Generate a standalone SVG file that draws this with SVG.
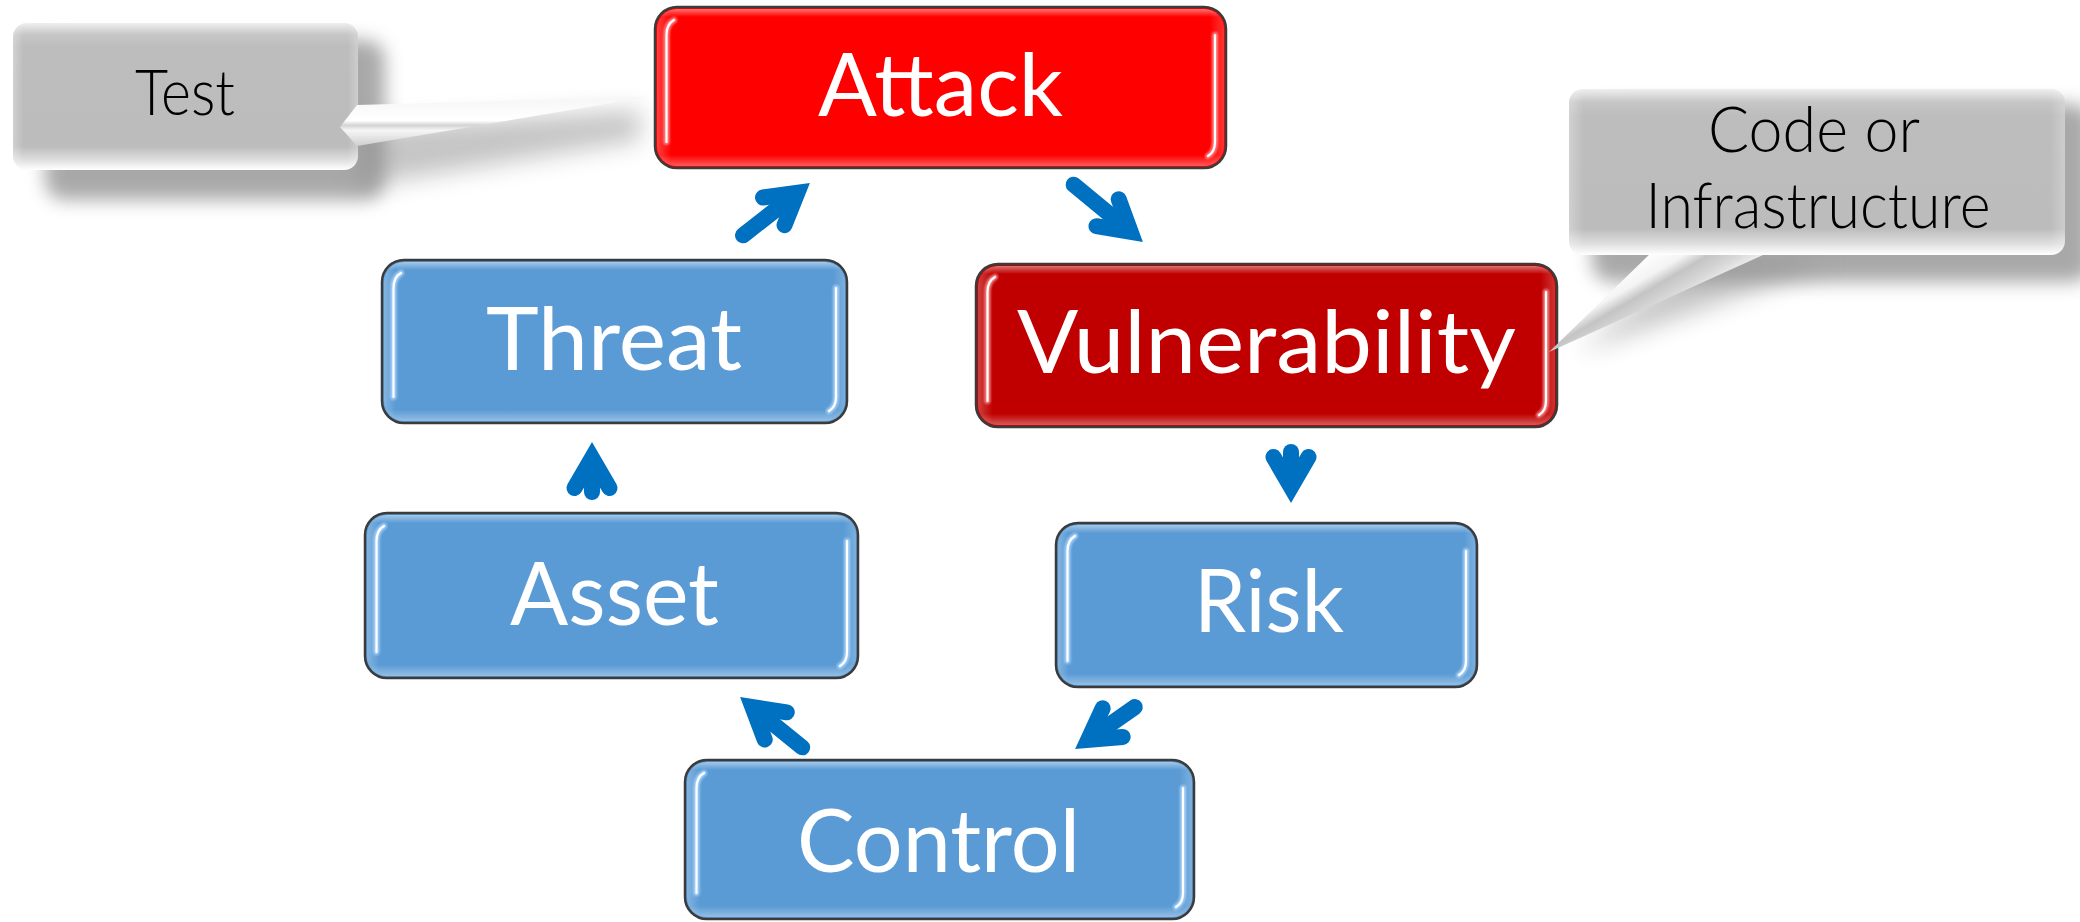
<svg xmlns="http://www.w3.org/2000/svg" width="2080" height="922" viewBox="0 0 2080 922">
  <style>
    .box { stroke: #3b3b3b; stroke-width: 2.5; }
    .blue .box { fill: #5b9bd5; }
    .red .box { fill: #ff0000; }
    .dark .box { fill: #c00000; }
    .gloss-v { fill: url(#glossV); stroke: none; }
    .gloss-h { fill: url(#glossH); stroke: none; }
    .glow { fill: none; stroke-width: 6; stroke-linecap: round; opacity: .8; filter: url(#soft); }
    .blue .glow { stroke: #b4dbff; }
    .red .glow, .dark .glow { stroke: #ff9c9c; }
    .shine { fill: none; stroke: #ffffff; stroke-width: 2.2; stroke-linecap: round; filter: url(#soft1); }
    .label { font-family: Lato, "Open Sans", sans-serif; font-size: 87px; fill: #ffffff; text-anchor: middle; }
    .note { font-family: Lato, "Open Sans", sans-serif; font-weight: 300; font-size: 63px; fill: #000000; text-anchor: middle; }
    .callout-box { fill: url(#calloutV); }
    .callout-edge { fill: url(#calloutH); }
    .shadow { fill: #707070; opacity: .6; filter: url(#blur9); }
    .tail-shadow { fill: #8a8a8a; opacity: .5; filter: url(#blur12); }
    .arrow path { fill: none; stroke: #0070c0; stroke-width: 16; stroke-linecap: round; stroke-linejoin: miter; stroke-miterlimit: 6; }
  </style>
  <defs>
    <linearGradient id="glossV" x1="0" y1="0" x2="0" y2="1">
      <stop offset="0" stop-color="#ffffff" stop-opacity=".45"/>
      <stop offset=".05" stop-color="#ffffff" stop-opacity="0"/>
      <stop offset=".93" stop-color="#ffffff" stop-opacity="0"/>
      <stop offset="1" stop-color="#ffffff" stop-opacity=".35"/>
    </linearGradient>
    <linearGradient id="glossH" x1="0" y1="0" x2="1" y2="0">
      <stop offset="0" stop-color="#ffffff" stop-opacity=".25"/>
      <stop offset=".025" stop-color="#ffffff" stop-opacity="0"/>
      <stop offset=".975" stop-color="#ffffff" stop-opacity="0"/>
      <stop offset="1" stop-color="#ffffff" stop-opacity=".2"/>
    </linearGradient>
    <linearGradient id="calloutV" x1="0" y1="0" x2="0" y2="1">
      <stop offset="0" stop-color="#efefef"/>
      <stop offset=".08" stop-color="#c6c6c6"/>
      <stop offset=".16" stop-color="#bdbdbd"/>
      <stop offset=".84" stop-color="#bcbcbc"/>
      <stop offset=".93" stop-color="#dedede"/>
      <stop offset="1" stop-color="#ffffff"/>
    </linearGradient>
    <linearGradient id="calloutH" x1="0" y1="0" x2="1" y2="0">
      <stop offset="0" stop-color="#ffffff" stop-opacity=".3"/>
      <stop offset=".03" stop-color="#ffffff" stop-opacity="0"/>
      <stop offset=".97" stop-color="#ffffff" stop-opacity="0"/>
      <stop offset="1" stop-color="#ffffff" stop-opacity=".25"/>
    </linearGradient>
    <linearGradient id="tailTest" gradientUnits="userSpaceOnUse" x1="0" y1="100" x2="0" y2="146">
      <stop offset="0" stop-color="#f7f7f7"/>
      <stop offset=".45" stop-color="#ffffff"/>
      <stop offset=".55" stop-color="#d3d3d3"/>
      <stop offset=".66" stop-color="#f6f6f6"/>
      <stop offset="1" stop-color="#cfcfcf"/>
    </linearGradient>
    <linearGradient id="tailCode" gradientUnits="userSpaceOnUse" x1="1630" y1="262" x2="1661" y2="315">
      <stop offset="0" stop-color="#ffffff"/>
      <stop offset=".35" stop-color="#f4f4f4"/>
      <stop offset=".55" stop-color="#c4c4c4"/>
      <stop offset=".8" stop-color="#d8d8d8"/>
      <stop offset="1" stop-color="#eeeeee"/>
    </linearGradient>
    <filter id="soft" x="-50%" y="-10%" width="200%" height="120%"><feGaussianBlur stdDeviation="1.2"/></filter>
    <filter id="soft1" x="-50%" y="-10%" width="200%" height="120%"><feGaussianBlur stdDeviation=".5"/></filter>
    <filter id="blur9" x="-20%" y="-40%" width="140%" height="180%"><feGaussianBlur stdDeviation="9"/></filter>
    <filter id="blur12" x="-30%" y="-60%" width="160%" height="220%"><feGaussianBlur stdDeviation="12"/></filter>
  </defs>

  <rect width="2080" height="922" fill="#ffffff"/>

  <!-- cycle nodes -->
  <g id="node-attack" class="red">
    <rect class="box" x="655" y="7" width="571" height="161" rx="22"/>
    <rect class="gloss-v" x="657" y="9" width="567" height="157" rx="20"/>
    <rect class="gloss-h" x="657" y="9" width="567" height="157" rx="20"/>
    <path class="glow" d="M666.5 142V35Q666.5 24 674 20"/>
    <path class="glow" d="M1215 35V142Q1215 152 1208 156"/>
    <path class="shine" d="M666.5 142V35Q666.5 24 674 20"/>
    <path class="shine" d="M1215 35V142Q1215 152 1208 156"/>
    <text class="label" x="940.5" y="116" textLength="245" lengthAdjust="spacingAndGlyphs">Attack</text>
  </g>

  <g id="node-threat" class="blue">
    <rect class="box" x="382" y="260" width="465" height="163" rx="22"/>
    <rect class="gloss-v" x="384" y="262" width="461" height="159" rx="20"/>
    <rect class="gloss-h" x="384" y="262" width="461" height="159" rx="20"/>
    <path class="glow" d="M393.5 397V288Q393.5 277 401 273"/>
    <path class="glow" d="M836 288V397Q836 407 829 411"/>
    <path class="shine" d="M393.5 397V288Q393.5 277 401 273"/>
    <path class="shine" d="M836 288V397Q836 407 829 411"/>
    <text class="label" x="614" y="370" textLength="256" lengthAdjust="spacingAndGlyphs">Threat</text>
  </g>

  <g id="node-vulnerability" class="dark">
    <rect class="box" x="976" y="264" width="581" height="163" rx="22"/>
    <rect class="gloss-v" x="978" y="266" width="577" height="159" rx="20"/>
    <rect class="gloss-h" x="978" y="266" width="577" height="159" rx="20"/>
    <path class="glow" d="M987.5 401V292Q987.5 281 995 277"/>
    <path class="glow" d="M1546 292V401Q1546 411 1539 415"/>
    <path class="shine" d="M987.5 401V292Q987.5 281 995 277"/>
    <path class="shine" d="M1546 292V401Q1546 411 1539 415"/>
    <text class="label" x="1266.5" y="373" textLength="499" lengthAdjust="spacingAndGlyphs">Vulnerability</text>
  </g>

  <g id="node-asset" class="blue">
    <rect class="box" x="365" y="513" width="493" height="165" rx="22"/>
    <rect class="gloss-v" x="367" y="515" width="489" height="161" rx="20"/>
    <rect class="gloss-h" x="367" y="515" width="489" height="161" rx="20"/>
    <path class="glow" d="M376.5 652V541Q376.5 530 384 526"/>
    <path class="glow" d="M847 541V652Q847 662 840 666"/>
    <path class="shine" d="M376.5 652V541Q376.5 530 384 526"/>
    <path class="shine" d="M847 541V652Q847 662 840 666"/>
    <text class="label" x="614.5" y="625" textLength="209" lengthAdjust="spacingAndGlyphs">Asset</text>
  </g>

  <g id="node-risk" class="blue">
    <rect class="box" x="1056" y="523" width="421" height="164" rx="22"/>
    <rect class="gloss-v" x="1058" y="525" width="417" height="160" rx="20"/>
    <rect class="gloss-h" x="1058" y="525" width="417" height="160" rx="20"/>
    <path class="glow" d="M1067.5 661V551Q1067.5 540 1075 536"/>
    <path class="glow" d="M1466 551V661Q1466 671 1459 675"/>
    <path class="shine" d="M1067.5 661V551Q1067.5 540 1075 536"/>
    <path class="shine" d="M1466 551V661Q1466 671 1459 675"/>
    <text class="label" x="1269" y="632" textLength="150" lengthAdjust="spacingAndGlyphs">Risk</text>
  </g>

  <g id="node-control" class="blue">
    <rect class="box" x="685" y="760" width="509" height="159" rx="22"/>
    <rect class="gloss-v" x="687" y="762" width="505" height="155" rx="20"/>
    <rect class="gloss-h" x="687" y="762" width="505" height="155" rx="20"/>
    <path class="glow" d="M696.5 893V788Q696.5 777 704 773"/>
    <path class="glow" d="M1183 788V893Q1183 903 1176 907"/>
    <path class="shine" d="M696.5 893V788Q696.5 777 704 773"/>
    <path class="shine" d="M1183 788V893Q1183 903 1176 907"/>
    <text class="label" x="938.5" y="872" textLength="283" lengthAdjust="spacingAndGlyphs">Control</text>
  </g>

  <!-- connectors: each arrow drawn pointing +x with its tip at the origin -->
  <g id="connectors">
    <g class="arrow" id="threat-to-attack" transform="translate(810 183) rotate(-38)">
      <path d="M-85 0H-24"/><path d="M-46 -17.5L-16 0L-46 17.5"/>
    </g>
    <g class="arrow" id="attack-to-vulnerability" transform="translate(1143 242) rotate(39.6)">
      <path d="M-90 0H-24"/><path d="M-46 -17.5L-16 0L-46 17.5"/>
    </g>
    <g class="arrow" id="vulnerability-to-risk" transform="translate(1291 503) rotate(90)">
      <path d="M-51 0H-24"/><path d="M-46 -17.5L-16 0L-46 17.5"/>
    </g>
    <g class="arrow" id="risk-to-control" transform="translate(1075 749) rotate(145)">
      <path d="M-73 0H-24"/><path d="M-46 -17.5L-16 0L-46 17.5"/>
    </g>
    <g class="arrow" id="control-to-asset" transform="translate(740 697) rotate(-141)">
      <path d="M-80 0H-24"/><path d="M-46 -17.5L-16 0L-46 17.5"/>
    </g>
    <g class="arrow" id="asset-to-threat" transform="translate(592 442) rotate(-90)">
      <path d="M-50 0H-24"/><path d="M-46 -17.5L-16 0L-46 17.5"/>
    </g>
  </g>

  <!-- callout: Test -->
  <g id="callout-test">
    <rect class="shadow" x="45" y="40" width="340" height="160" rx="20"/>
    <polygon class="tail-shadow" points="360,128 640,110 640,140 360,186"/>
    <rect class="callout-box" x="13" y="23" width="345" height="147" rx="14"/>
    <rect class="callout-edge" x="13" y="23" width="345" height="147" rx="14"/>
    <polygon points="357,105 648,97 357,146 340,127" fill="url(#tailTest)"/>
    <text class="note" x="185" y="115" textLength="100" lengthAdjust="spacingAndGlyphs">Test</text>
  </g>

  <!-- callout: Code or Infrastructure -->
  <g id="callout-code">
    <rect class="shadow" x="1592" y="104" width="500" height="178" rx="20"/>
    <polygon class="tail-shadow" points="1690,262 1578,352 1830,264"/>
    <polygon points="1654,250 1549,352 1774,250" fill="url(#tailCode)"/>
    <rect class="callout-box" x="1569" y="89" width="496" height="166" rx="14"/>
    <rect class="callout-edge" x="1569" y="89" width="496" height="166" rx="14"/>
    <text class="note" x="1814" y="152" textLength="212" lengthAdjust="spacingAndGlyphs">Code or</text>
    <text class="note" x="1818" y="228" textLength="345" lengthAdjust="spacingAndGlyphs">Infrastructure</text>
  </g>
</svg>
